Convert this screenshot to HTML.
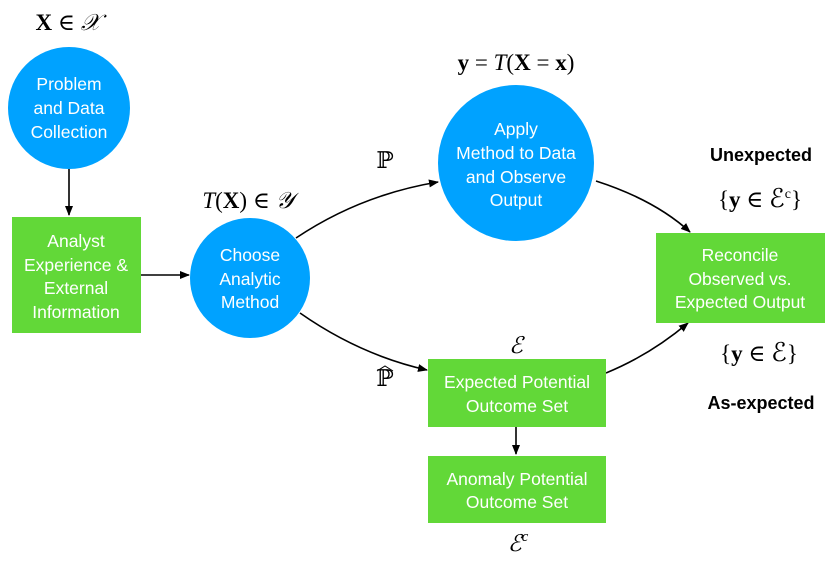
<!DOCTYPE html>
<html><head><meta charset="utf-8"><style>
body{margin:0;background:#fff;}
svg text{font-family:"Liberation Sans",sans-serif;}
.w{fill:#fff;font-size:17.5px;text-anchor:middle;}
.m{font-family:"Liberation Serif","DejaVu Serif",serif !important;font-size:23px;text-anchor:middle;fill:#000;}
.b{font-weight:bold;font-size:18px;text-anchor:middle;fill:#000;}
</style></head><body>
<svg width="831" height="564" viewBox="0 0 831 564" xmlns="http://www.w3.org/2000/svg">
<defs><marker id="a" markerWidth="10" markerHeight="8" refX="9" refY="4" orient="auto" markerUnits="userSpaceOnUse"><path d="M0,0 L10,4 L0,8 z" fill="#000"/></marker></defs>
<g stroke="#000" stroke-width="1.6" fill="none" marker-end="url(#a)">
<line x1="69" y1="169" x2="69" y2="215"/>
<line x1="141" y1="275" x2="189" y2="275"/>
<path d="M296,238 Q360,195 438,182"/>
<path d="M300,313 Q360,355 427,370"/>
<path d="M596,181 Q655,200 690,232"/>
<path d="M606,373 Q650,355 688,323"/>
<line x1="516" y1="427" x2="516" y2="454"/>
</g>
<circle cx="69" cy="108" r="61" fill="#00A2FF"/>
<text class="w" x="69" y="90">Problem</text><text class="w" x="69" y="114">and Data</text><text class="w" x="69" y="138">Collection</text>
<rect x="12" y="217" width="129" height="116" fill="#62D838"/>
<text class="w" x="76" y="247">Analyst</text><text class="w" x="76" y="271">Experience &amp;</text><text class="w" x="76" y="294">External</text><text class="w" x="76" y="318">Information</text>
<circle cx="250" cy="278" r="60" fill="#00A2FF"/>
<text class="w" x="250" y="261">Choose</text><text class="w" x="250" y="285">Analytic</text><text class="w" x="250" y="308">Method</text>
<circle cx="516" cy="163" r="78" fill="#00A2FF"/>
<text class="w" x="516" y="135">Apply</text><text class="w" x="516" y="159">Method to Data</text><text class="w" x="516" y="183">and Observe</text><text class="w" x="516" y="206">Output</text>
<rect x="428" y="359" width="178" height="68" fill="#62D838"/>
<text class="w" x="517" y="388">Expected Potential</text><text class="w" x="517" y="412">Outcome Set</text>
<rect x="428" y="456" width="178" height="67" fill="#62D838"/>
<text class="w" x="517" y="485">Anomaly Potential</text><text class="w" x="517" y="508">Outcome Set</text>
<rect x="656" y="233" width="169" height="90" fill="#62D838"/>
<text class="w" x="740" y="261">Reconcile</text><text class="w" x="740" y="285">Observed vs.</text><text class="w" x="740" y="308">Expected Output</text>
<text class="m" x="68" y="30"><tspan font-weight="bold">X</tspan> ∈ <tspan font-style="italic">𝒳</tspan></text>
<text class="m" x="248" y="208"><tspan font-style="italic">T</tspan>(<tspan font-weight="bold">X</tspan>) ∈ <tspan font-style="italic">𝒴</tspan></text>
<text class="m" x="516" y="70"><tspan font-weight="bold">y</tspan> = <tspan font-style="italic">T</tspan>(<tspan font-weight="bold">X</tspan> = <tspan font-weight="bold">x</tspan>)</text>
<text class="m" x="385" y="168" font-size="17">ℙ</text>
<text class="m" x="385" y="386" font-size="17">ℙ</text>
<path d="M377,371 L385,366 L393,371" stroke="#000" stroke-width="1" fill="none"/>
<text class="m" x="516" y="353" font-size="28" font-style="italic">ℰ</text>
<text class="m" x="518" y="551" font-size="28" font-style="italic">ℰ<tspan font-size="15" dy="-10">c</tspan></text>
<text class="b" x="761" y="161">Unexpected</text>
<text class="m" x="760" y="207">{<tspan font-weight="bold">y</tspan> ∈ <tspan font-size="26">ℰ</tspan><tspan font-size="14" dy="-9">c</tspan><tspan dy="9">}</tspan></text>
<text class="m" x="759" y="361">{<tspan font-weight="bold">y</tspan> ∈ <tspan font-size="26">ℰ</tspan>}</text>
<text class="b" x="761" y="409">As-expected</text>
</svg>
</body></html>
